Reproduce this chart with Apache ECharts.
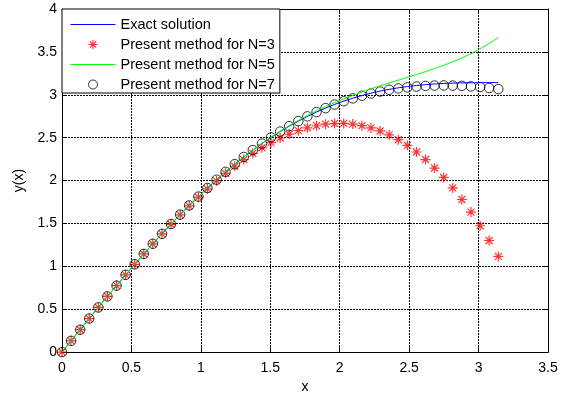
<!DOCTYPE html>
<html>
<head>
<meta charset="utf-8">
<script src="https://cdn.jsdelivr.net/npm/echarts@6/dist/echarts.min.js"></script>
<style>
  html, body { margin: 0; padding: 0; background: #fff; }
  #chart { width: 564px; height: 399px; }
</style>
</head>
<body>
<div id="chart"></div>
<script>
// sample points along x
const xs = [0, 0.065, 0.131, 0.196, 0.262, 0.327, 0.393, 0.458, 0.524, 0.589, 0.654, 0.720, 0.785, 0.851, 0.916, 0.982,
  1.047, 1.113, 1.178, 1.244, 1.309, 1.374, 1.440, 1.505, 1.571, 1.636, 1.702, 1.767, 1.833, 1.898, 1.963, 2.029,
  2.094, 2.160, 2.225, 2.291, 2.356, 2.422, 2.487, 2.553, 2.618, 2.683, 2.749, 2.814, 2.880, 2.945, 3.011, 3.076, 3.142];

const exactY = [0, 0.131, 0.261, 0.391, 0.521, 0.649, 0.775, 0.900, 1.024, 1.145, 1.263, 1.379, 1.493, 1.603, 1.710, 1.813,
  1.913, 2.010, 2.102, 2.190, 2.275, 2.355, 2.431, 2.503, 2.571, 2.634, 2.693, 2.748, 2.799, 2.845, 2.887, 2.926,
  2.960, 2.991, 3.019, 3.043, 3.063, 3.081, 3.096, 3.108, 3.118, 3.126, 3.132, 3.136, 3.139, 3.140, 3.141, 3.142, 3.142];

const n3Y = [0, 0.131, 0.261, 0.391, 0.521, 0.649, 0.775, 0.900, 1.023, 1.144, 1.262, 1.378, 1.490, 1.599, 1.704, 1.806,
  1.903, 1.996, 2.084, 2.167, 2.244, 2.316, 2.382, 2.442, 2.496, 2.542, 2.582, 2.615, 2.639, 2.657, 2.665, 2.666,
  2.658, 2.640, 2.614, 2.578, 2.532, 2.476, 2.410, 2.333, 2.245, 2.146, 2.036, 1.914, 1.779, 1.632, 1.473, 1.301, 1.116];

const n5Y = [0, 0.131, 0.261, 0.391, 0.521, 0.649, 0.775, 0.901, 1.024, 1.145, 1.263, 1.379, 1.493, 1.603, 1.710, 1.813,
  1.914, 2.010, 2.103, 2.191, 2.276, 2.357, 2.434, 2.507, 2.575, 2.640, 2.701, 2.758, 2.812, 2.862, 2.909, 2.952,
  2.993, 3.032, 3.069, 3.104, 3.138, 3.170, 3.203, 3.236, 3.270, 3.306, 3.344, 3.385, 3.430, 3.479, 3.535, 3.596, 3.666];

const n7Y = [0, 0.131, 0.261, 0.391, 0.521, 0.649, 0.775, 0.901, 1.024, 1.145, 1.263, 1.379, 1.493, 1.603, 1.710, 1.813,
  1.913, 2.010, 2.102, 2.191, 2.275, 2.355, 2.431, 2.503, 2.571, 2.634, 2.693, 2.748, 2.798, 2.844, 2.886, 2.924,
  2.958, 2.989, 3.015, 3.038, 3.058, 3.074, 3.086, 3.096, 3.103, 3.107, 3.109, 3.107, 3.104, 3.098, 3.090, 3.079, 3.066];

const seriesNames = ['Exact solution', 'Present method for N=3', 'Present method for N=5', 'Present method for N=7'];

const pairs = ys => xs.map((x, i) => [x, ys[i]]);

const FONT = 'Liberation Sans, Arial, Helvetica, sans-serif';
const asterisk = 'path://M5,0L5,10M0,5L10,5M1.5,1.5L8.5,8.5M8.5,1.5L1.5,8.5';

const gridLine = { show: true, lineStyle: { color: '#000', width: 1, type: [2, 1] } };
const axisBase = {
  type: 'value',
  axisLine: { show: true, onZero: false, lineStyle: { color: '#000', width: 1 } },
  axisTick: { show: true, inside: true, length: 5, lineStyle: { color: '#000' } },
};

const chart = echarts.init(document.getElementById('chart'), null, { renderer: 'canvas' });

const option = {
  animation: false,
  backgroundColor: '#fff',
  textStyle: { fontFamily: FONT },
  grid: { left: 62, top: 9, right: 16, bottom: 38, containLabel: false },
  legend: {
    orient: 'vertical',
    left: 62,
    top: 9,
    padding: [8, 5, 1, 8],
    itemGap: 5,
    itemWidth: 45,
    itemHeight: 9,
    backgroundColor: '#fff',
    borderColor: '#000',
    borderWidth: 1,
    borderRadius: 0,
    textStyle: { fontSize: 14.5, color: '#000', fontFamily: FONT },
    data: [
      { name: seriesNames[0], itemStyle: { color: 'transparent', borderWidth: 0 }, lineStyle: { color: '#0000ff', width: 1 } },
      { name: seriesNames[1], icon: asterisk, itemStyle: { color: '#f00', borderColor: '#f00', borderWidth: 1.2 } },
      { name: seriesNames[2], itemStyle: { color: 'transparent', borderWidth: 0 }, lineStyle: { color: '#00ff00', width: 1 } },
      { name: seriesNames[3], icon: 'circle', itemStyle: { color: '#fff', borderColor: '#000', borderWidth: 1 } },
    ],
  },
  xAxis: [
    Object.assign({}, axisBase, {
      min: 0, max: 3.5, interval: 0.5, position: 'bottom',
      splitLine: gridLine,
      axisLabel: { fontSize: 14, color: '#000', margin: 9, fontFamily: FONT },
      name: 'x', nameLocation: 'middle', nameGap: 24,
      nameTextStyle: { fontSize: 14, color: '#000', fontFamily: FONT },
    }),
    Object.assign({}, axisBase, {
      min: 0, max: 3.5, interval: 0.5, position: 'top',
      splitLine: { show: false }, axisLabel: { show: false },
    }),
  ],
  yAxis: [
    Object.assign({}, axisBase, {
      min: 0, max: 4, interval: 0.5, position: 'left',
      splitLine: gridLine,
      axisLabel: { fontSize: 14, color: '#000', margin: 5, fontFamily: FONT },
      name: 'y(x)', nameLocation: 'middle', nameGap: 33,
      nameTextStyle: { fontSize: 14, color: '#000', fontFamily: FONT },
    }),
    Object.assign({}, axisBase, {
      min: 0, max: 4, interval: 0.5, position: 'right',
      splitLine: { show: false }, axisLabel: { show: false },
    }),
  ],
  series: [
    {
      name: seriesNames[0], type: 'line', data: pairs(exactY),
      symbol: 'none', lineStyle: { color: '#0000ff', width: 1 }, itemStyle: { color: '#0000ff' },
    },
    {
      name: seriesNames[1], type: 'scatter', data: pairs(n3Y),
      symbol: asterisk, symbolSize: 10,
      itemStyle: { color: '#f00', borderColor: '#f00', borderWidth: 1.2 },
    },
    {
      name: seriesNames[2], type: 'line', data: pairs(n5Y),
      symbol: 'none', lineStyle: { color: '#00ff00', width: 1 }, itemStyle: { color: '#00ff00' },
    },
    {
      name: seriesNames[3], type: 'scatter', data: pairs(n7Y),
      symbol: 'circle', symbolSize: 9.5,
      itemStyle: { color: 'none', borderColor: '#000', borderWidth: 1 },
    },
  ],
};

chart.setOption(option);
</script>
</body>
</html>
